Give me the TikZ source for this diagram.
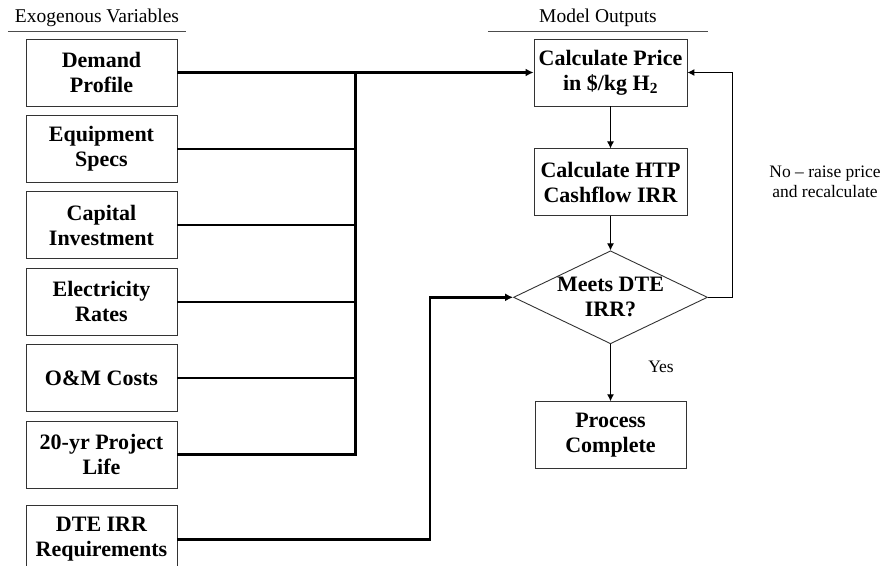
\documentclass[tikz,border=0pt]{standalone}
\usepackage{fontspec}
\setmainfont{Liberation Serif}
\usetikzlibrary{positioning,shapes.geometric,arrows.meta}
\tikzset{
    input-box/.style = {draw=black!80, line width=0.9pt, rectangle, minimum width=151pt, minimum height=67pt, inner sep=0pt, align=center, font=\fontsize{22}{25}\selectfont\bfseries},
    output-box/.style = {input-box, minimum width=153pt},
    decision-box/.style = {draw=black!80, line width=0.9pt, diamond, aspect=2.086, inner xsep=-8pt, inner ysep=0pt, minimum width=194pt, minimum height=93pt, align=center, font=\fontsize{22}{25}\selectfont\bfseries},
    column-title/.style = {font=\fontsize{19.5}{22}\selectfont, inner ysep=4.5pt, anchor=south},
    side-note/.style = {font=\fontsize{17.5}{19.5}\selectfont, align=center},
    feed-line/.style = {line width=2.2pt},
    bus-line/.style = {line width=2.8pt},
    feed-arrow/.style = {line width=2.4pt, -{Latex[length=8pt,width=8pt]}},
    flow-arrow/.style = {line width=1pt, -{Latex[length=7pt,width=7pt]}},
}
\begin{document}
\begin{tikzpicture}[x=1pt, y=-1pt]
\useasboundingbox (0,0) rectangle (885,565);

% column titles
\node[column-title, minimum width=178pt] (exo) at (97,31) {Exogenous Variables};
\draw[line width=0.8pt, black!70] (exo.south west) -- (exo.south east);
\node[column-title, minimum width=220pt] (outs) at (598,31) {Model Outputs};
\draw[line width=0.8pt, black!70] (outs.south west) -- (outs.south east);

% inputs
\node[input-box] (demand) at (101.5,72.5) {Demand\\Profile};
\node[input-box, below=8.5pt of demand] (equip) {Equipment\\Specs};
\node[input-box, below=8.5pt of equip] (capital) {Capital\\Investment};
\node[input-box, below=8.5pt of capital] (elec) {Electricity\\Rates};
\node[input-box, below=8.5pt of elec] (om) {O\&M Costs};
\node[input-box, below=8.5pt of om] (life) {20-yr Project\\Life};
\node[input-box, below=17pt of life] (dte) {DTE IRR\\Requirements};

% model steps
\node[output-box] (price) at (610.5,72.5) {Calculate Price\\in \$/kg H\textsubscript{2}};
\node[output-box, below=42pt of price] (htp) {Calculate HTP\\Cashflow IRR};
\node[decision-box, below=34pt of htp] (meets) {Meets DTE\\IRR?};
\node[input-box, below=57pt of meets] (done) {Process\\Complete};

\coordinate (bus) at (355.5,0);
\coordinate (jog) at (430,0);
\coordinate (loop) at (732,0);

% inputs into the bus
\foreach \n in {demand,equip,capital,elec,om}
    \draw[feed-line] (\n.east) -- (\n.east -| bus);
\draw[bus-line] (life.east) -| (demand.east -| bus);
\draw[feed-arrow] (demand.east -| bus) -- (price.west);
\draw[feed-arrow] (dte.east) -| (jog |- meets.west) -- (meets.west);

% model flow
\draw[flow-arrow] (price) -- (htp);
\draw[flow-arrow] (htp) -- (meets);
\draw[flow-arrow] (meets) -- (done);
\draw[flow-arrow] (meets.east) -| (loop |- price.east) -- (price.east);

\node[side-note] (no) at (825,182) {No -- raise price\\and recalculate};
\node[side-note] (yes) at (661,367) {Yes};
\end{tikzpicture}
\end{document}
